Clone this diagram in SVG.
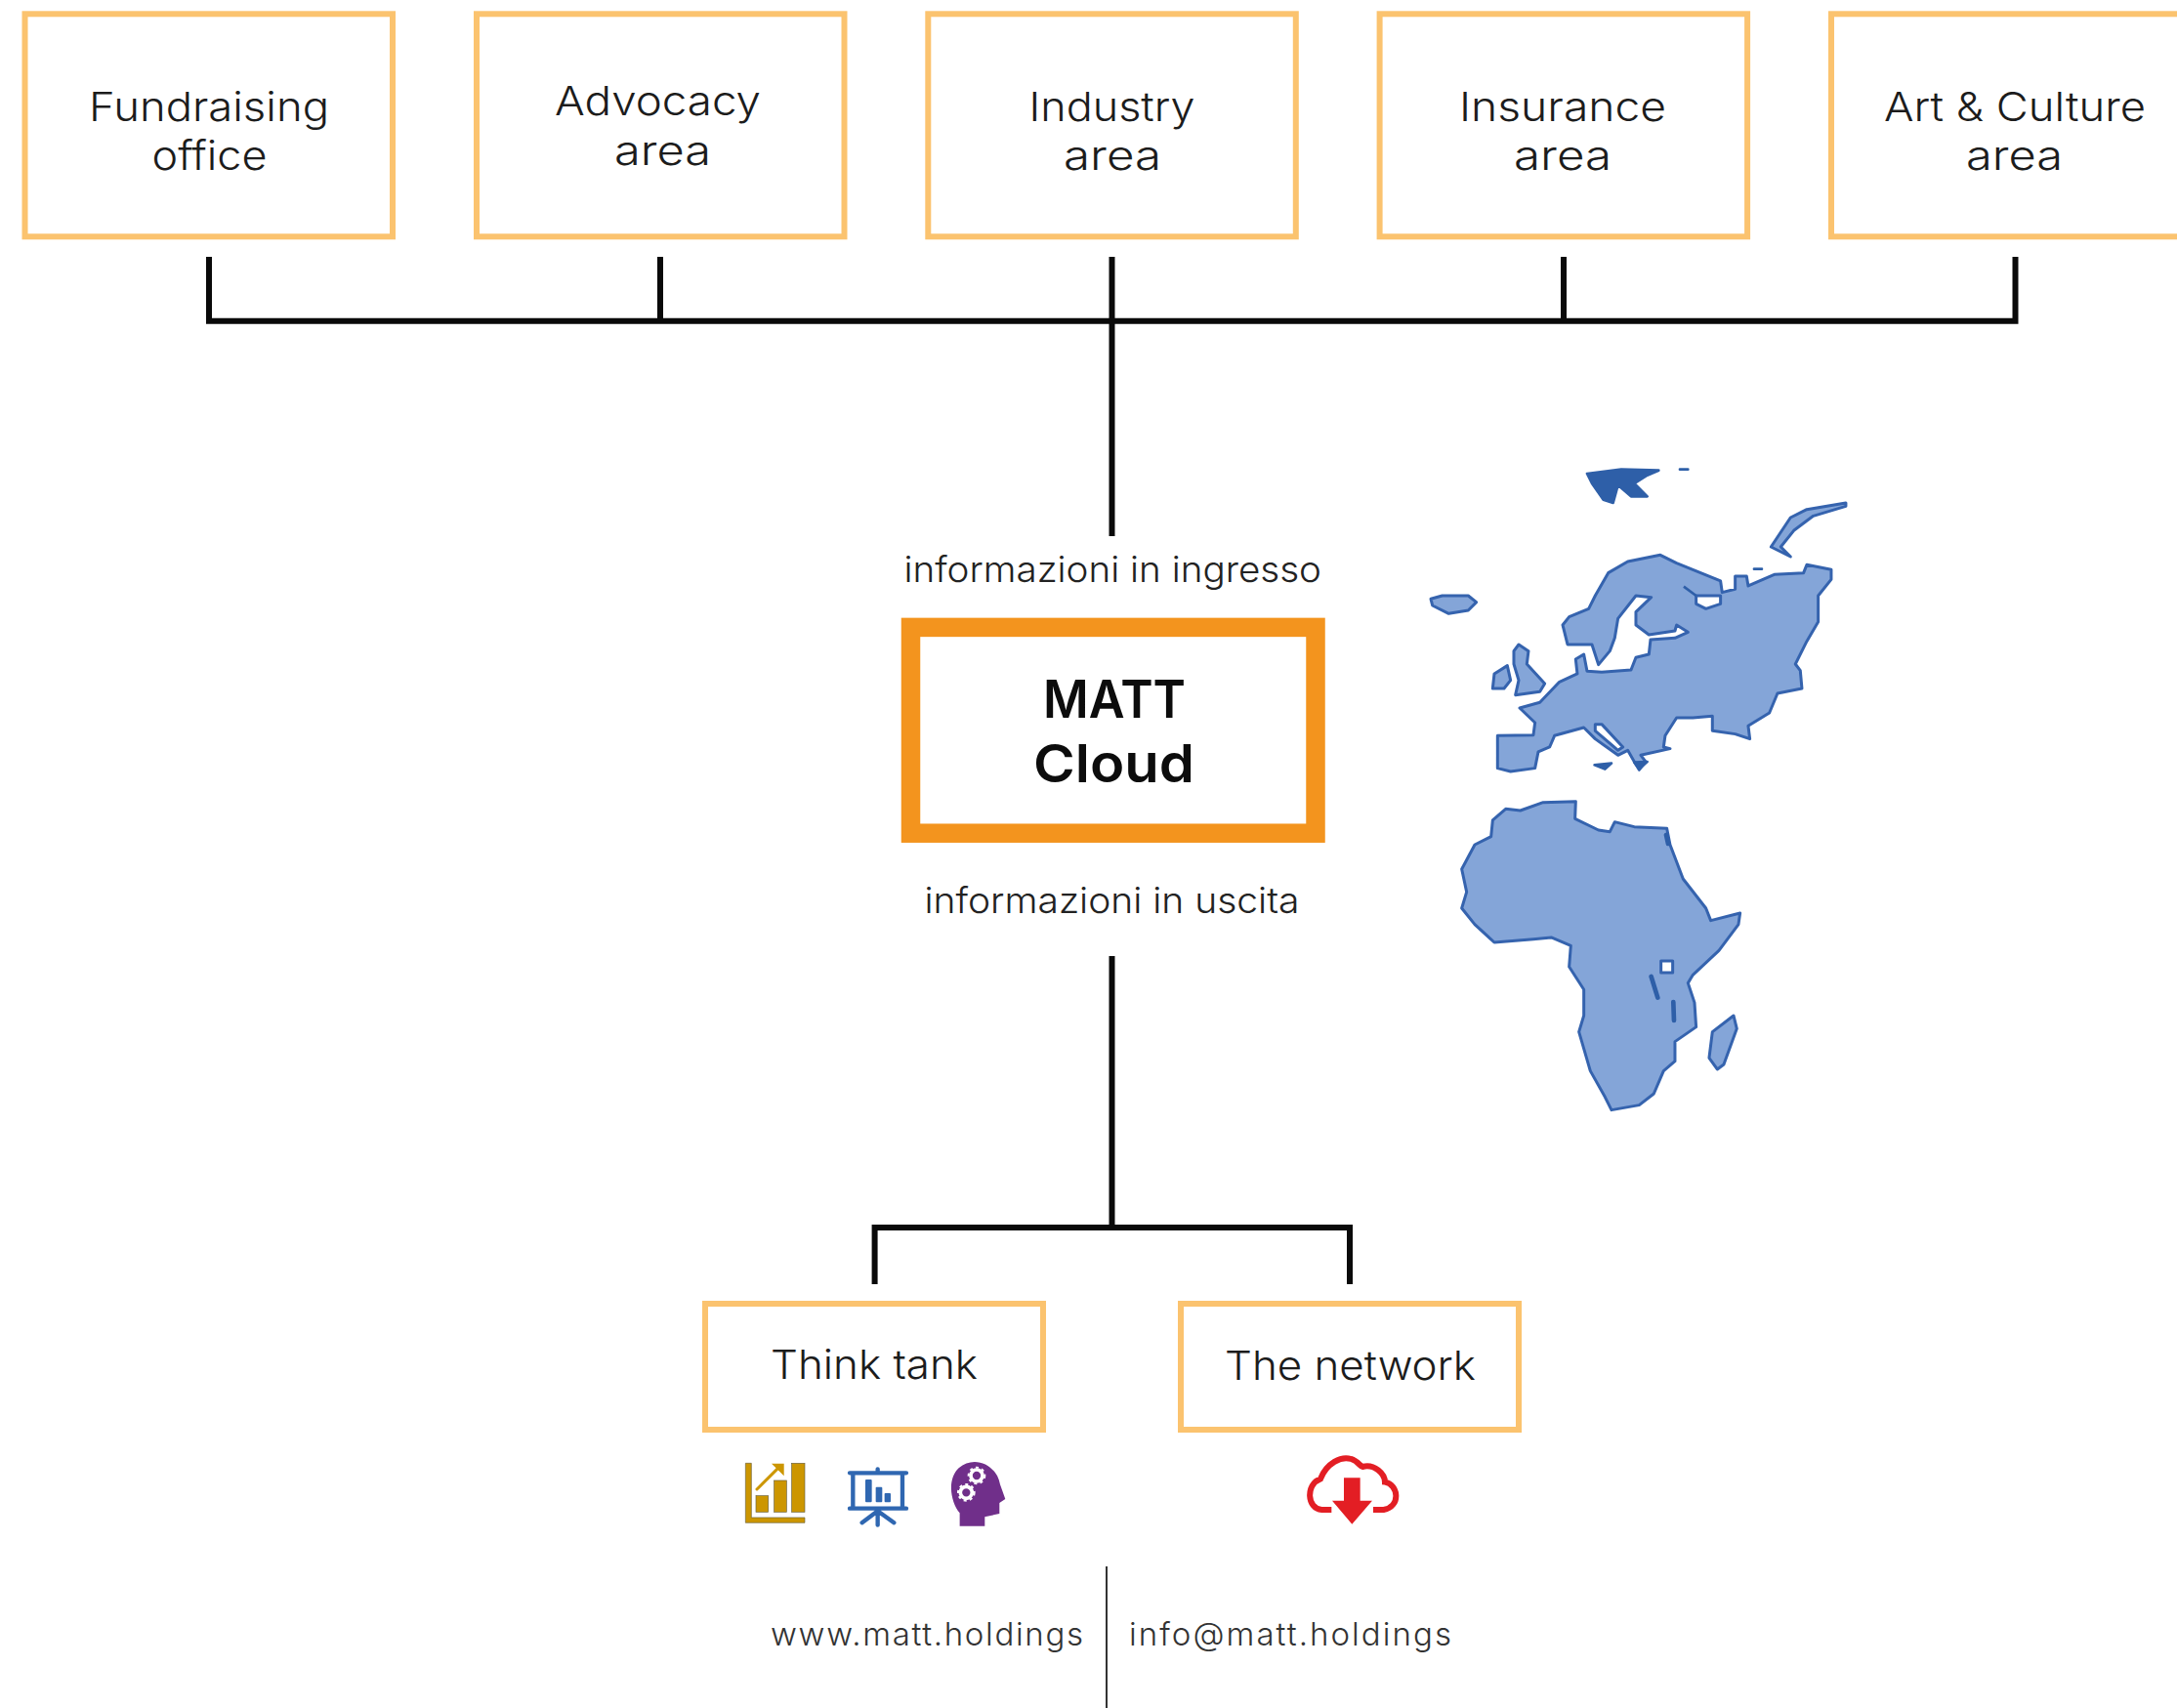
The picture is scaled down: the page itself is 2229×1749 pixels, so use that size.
<svg xmlns="http://www.w3.org/2000/svg" width="2229" height="1749" viewBox="0 0 2229 1749">
<defs>
<filter id="soft" x="-5%" y="-5%" width="110%" height="110%"><feGaussianBlur stdDeviation="2"/></filter>
</defs>
<style>
.box{fill:#fff;stroke:#FBC36F;stroke-width:6}
.hub{fill:#fff;stroke:#F3941E;stroke-width:19.5}
.t{font-family:Inter,"Liberation Sans",sans-serif;font-weight:300;fill:#1c1c1c;font-size:41px}
.s{font-family:Inter,"Liberation Sans",sans-serif;font-weight:300;fill:#222;font-size:37px}
.b{font-family:Inter,"Liberation Sans",sans-serif;font-weight:600;fill:#0c0c0c;font-size:54px}
.f{font-family:Inter,"Liberation Sans",sans-serif;font-weight:300;fill:#333;font-size:33px}
.con{fill:none;stroke:#0a0a0a;stroke-width:6}
.land{fill:#84A5D8;stroke:#3563AE;stroke-width:9;stroke-linejoin:round}
.sea{fill:#fff;stroke:#3563AE;stroke-width:9;stroke-linejoin:round}
.dark{fill:#2F5FA8;stroke:#2F5FA8;stroke-width:8;stroke-linejoin:round;stroke-linecap:round}
.gold{fill:#CC9600;stroke:#6b6340;stroke-width:2}
.blue{fill:none;stroke:#2F67B1;stroke-width:13;stroke-linecap:round}
.bar{fill:#2F67B1}
</style>
<rect width="2229" height="1749" fill="#fff"/>
<g id="connectors">
<path class="con" d="M214 263V328.700H2063.500V263M676 263V328.700M1138.500 263V549M1601 263V328.700"/>
<path class="con" d="M1138.500 979V1257M895.600 1315V1257H1382V1315"/>
<path d="M1133 1604V1749" fill="none" stroke="#333" stroke-width="2"/>
</g>
<g id="node-fundraising"><rect class="box" x="25.500" y="14.300" width="376.500" height="228"/>
<text class="t" x="91" y="124" textLength="246" lengthAdjust="spacingAndGlyphs">Fundraising</text>
<text class="t" x="155.500" y="174" textLength="118" lengthAdjust="spacingAndGlyphs">office</text></g>
<g id="node-advocacy"><rect class="box" x="488" y="14.300" width="376.500" height="228"/>
<text class="t" x="568" y="118" textLength="211" lengthAdjust="spacingAndGlyphs">Advocacy</text>
<text class="t" x="629" y="169" textLength="99" lengthAdjust="spacingAndGlyphs">area</text></g>
<g id="node-industry"><rect class="box" x="950.300" y="14.300" width="376.500" height="228"/>
<text class="t" x="1053.500" y="124" textLength="170" lengthAdjust="spacingAndGlyphs">Industry</text>
<text class="t" x="1089" y="174" textLength="100" lengthAdjust="spacingAndGlyphs">area</text></g>
<g id="node-insurance"><rect class="box" x="1412.600" y="14.300" width="376.500" height="228"/>
<text class="t" x="1494" y="124" textLength="212" lengthAdjust="spacingAndGlyphs">Insurance</text>
<text class="t" x="1550" y="174" textLength="100" lengthAdjust="spacingAndGlyphs">area</text></g>
<g id="node-art"><rect class="box" x="1875" y="14.300" width="376.500" height="228"/>
<text class="t" x="1929" y="124" textLength="268" lengthAdjust="spacingAndGlyphs">Art &amp; Culture</text>
<text class="t" x="2013" y="174" textLength="99" lengthAdjust="spacingAndGlyphs">area</text></g>
<g id="label-in"><text class="s" x="925.500" y="596" textLength="427.500" lengthAdjust="spacingAndGlyphs">informazioni in ingresso</text></g>
<g id="node-hub"><rect class="hub" x="932.500" y="642.400" width="414.500" height="210.800"/>
<text class="b" x="1068" y="735" textLength="146" lengthAdjust="spacingAndGlyphs">MATT</text>
<text class="b" x="1058" y="801" textLength="165" lengthAdjust="spacingAndGlyphs">Cloud</text></g>
<g id="label-out"><text class="s" x="946.500" y="935" textLength="384" lengthAdjust="spacingAndGlyphs">informazioni in uscita</text></g>
<g id="node-think"><rect class="box" x="722" y="1335" width="346" height="129"/>
<text class="t" x="789" y="1412" textLength="212" lengthAdjust="spacingAndGlyphs">Think tank</text></g>
<g id="node-network"><rect class="box" x="1209" y="1335" width="346" height="129"/>
<text class="t" x="1254" y="1413" textLength="257" lengthAdjust="spacingAndGlyphs">The network</text></g>
<g id="icon-chart" transform="translate(740 1470) scale(.3333)">
<path class="gold" d="M70 85H88V252H252V268H70Z"/>
<rect class="gold" x="102" y="185" width="38" height="50"/>
<rect class="gold" x="158" y="138" width="38" height="97"/>
<rect class="gold" x="212" y="85" width="40" height="150"/>
<path d="M105 165L170 100" fill="none" stroke="#CC9600" stroke-width="9" stroke-linecap="round"/>
<path d="M150 86H188V124Z" fill="#CC9600"/>
</g>
<g id="icon-board" transform="translate(740 1470) scale(.3333)">
<path class="blue" d="M390 115H564M400 115V224M552 115V224M390 224H564M476 103V115M476 226V275M476 232L428 268M476 232L526 268"/>
<rect class="bar" x="438" y="135" width="20" height="70" rx="3"/>
<rect class="bar" x="470" y="158" width="20" height="47" rx="3"/>
<rect class="bar" x="497" y="177" width="19" height="28" rx="3"/>
</g>
<g id="icon-head" transform="translate(740 1470) scale(.3333)">
<path d="M728 278V238C700 205 688 135 725 100C772 58 842 90 852 150L868 195L850 207V240L805 250V278Z" fill="#702F8A"/>
<circle cx="780" cy="123" r="18" fill="none" stroke="#fff" stroke-width="11"/>
<circle cx="780" cy="123" r="25" fill="none" stroke="#fff" stroke-width="6" stroke-dasharray="9 10"/>
<circle cx="748" cy="175" r="18" fill="none" stroke="#fff" stroke-width="11"/>
<circle cx="748" cy="175" r="25" fill="none" stroke="#fff" stroke-width="6" stroke-dasharray="9 10"/>
</g>
<g id="icon-cloud" transform="translate(1310 1470) scale(.3333)">
<path d="M160 228H130C84 225 80 150 126 133C145 85 190 62 220 72C240 78 250 96 255 96C292 86 324 118 324 143C366 150 374 218 320 228H288" fill="none" stroke="#E31E24" stroke-width="18"/>
<path d="M198 130H248V200H285L223 272L162 200H198Z" fill="#E31E24"/>
</g>
<g id="map-europe" transform="translate(1400 440) scale(.3333)">
<g filter="url(#soft)">
<path class="land" d="M400 940L510 938L515 900L468 855L530 838L590 775L645 750L640 705L665 690L675 742L720 745L810 738L825 700L865 690L870 645L945 640L985 622L950 600L945 618L865 630L825 600L825 560L872 515L825 510L770 580L760 640L745 680L710 722L690 660L615 660L600 600L620 575L680 550L700 510L740 440L800 405L900 385L950 410L1000 430L1085 465L1090 500L1130 490L1130 450L1165 450L1170 480L1250 445L1340 440L1350 415L1425 430L1425 460L1385 510L1385 590L1350 650L1315 720L1330 740L1335 795L1260 810L1235 870L1170 910L1175 950L1130 935L1060 925L1060 880L1000 885L950 885L915 940L910 975L930 980L840 1000L855 1020L835 1045L820 1020L800 985L770 1000L700 950L665 915L575 940L560 975L525 990L515 1040L440 1050L400 1040Z"/>
<path class="sea" d="M1010 510L1085 510L1085 535L1040 550L1010 535Z"/>
<path d="M972 482L1010 510" fill="none" stroke="#2F5FA8" stroke-width="8"/>
<path class="sea" d="M700 905L720 905L785 975L770 985L700 925Z"/>
<path class="land" d="M195 520L230 510L310 510L335 530L310 555L250 565L200 540Z"/>
<path class="land" d="M465 660L495 680L490 720L545 780L530 805L455 815L465 770L450 720L450 680Z"/>
<path class="land" d="M390 750L430 725L440 770L420 795L385 795Z"/>
<path class="land" d="M1470 225L1350 245L1300 270L1240 360L1300 390L1270 360L1310 310L1370 265L1470 235Z"/>
<path class="dark" d="M675 135L780 122L895 125L860 140L820 165L860 205L810 205L770 170L755 225L725 215L690 165Z"/>
<path class="dark" d="M960 122H985M1188 428H1212M698 1030L750 1025L730 1043ZM820 1022L860 1020L835 1042Z"/>
</g>
</g>
<g id="map-africa" transform="translate(1440 790) scale(.3333)">
<g filter="url(#soft)">
<path class="land" d="M305 115L350 120L420 95L520 92L518 145L590 180L625 185L640 155L700 170L800 175L810 225L850 330L920 420L935 458L1025 435L1020 470L960 550L880 625L865 650L885 710L890 785L825 830L825 890L790 920L760 990L715 1025L630 1040L610 1000L565 920L530 800L545 750L545 670L500 600L505 535L445 510L390 515L270 525L210 470L170 420L185 370L170 300L210 225L260 200L265 150Z"/>
<rect class="sea" x="782" y="582" width="36" height="36"/>
<path class="dark" style="stroke-width:14" d="M752 630L772 695M820 708L822 765M798 195L804 222"/>
<path class="land" d="M1005 750L1015 790L975 900L955 915L930 880L940 800Z"/>
</g>
</g>
<g id="footer">
<text class="f" x="789" y="1685" textLength="320" lengthAdjust="spacing">www.matt.holdings</text>
<text class="f" x="1156" y="1685" textLength="330" lengthAdjust="spacing">info@matt.holdings</text>
</g>
</svg>
